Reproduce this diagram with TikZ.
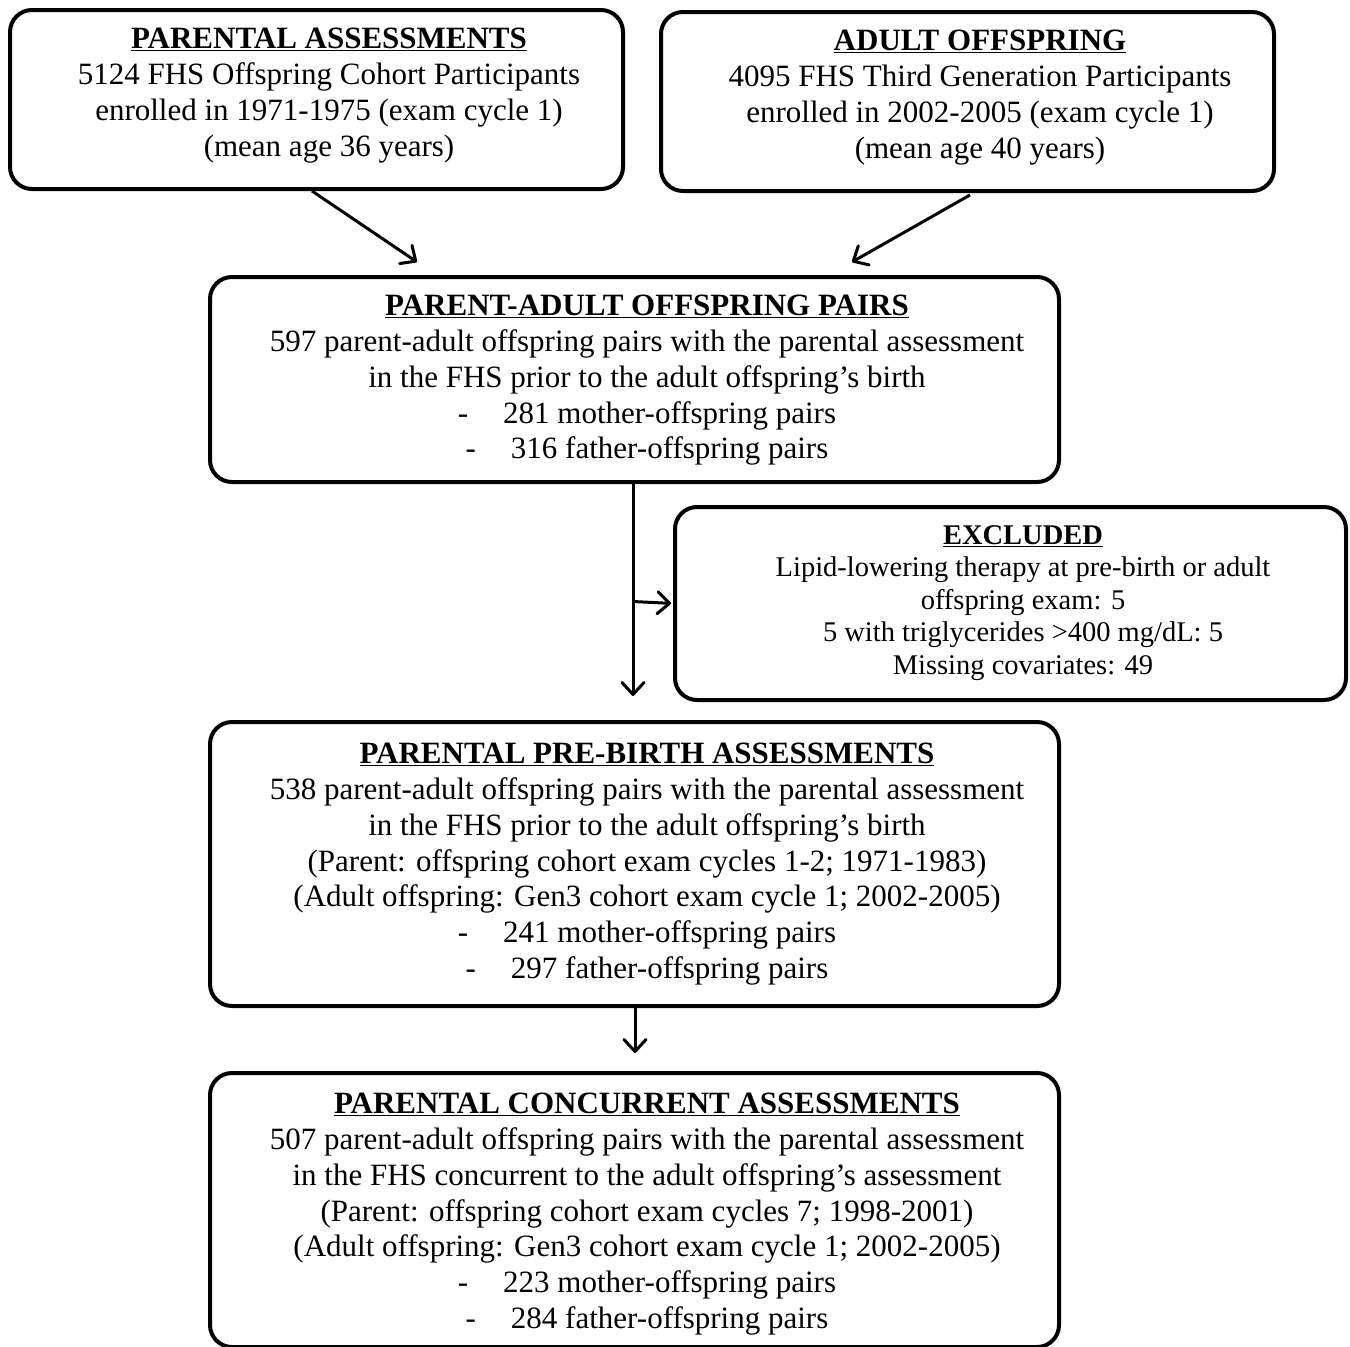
\documentclass[tikz,border=0pt]{standalone}
\usepackage{fontspec}
\setmainfont{Liberation Serif}
\usetikzlibrary{arrows.meta}
\newcommand\dashitem[1]{-\hspace*{35pt}#1}
\newcommand\ttl[1]{\underline{\textbf{#1}}}
\tikzset{
  box/.style={draw, line width=4pt, rounded corners=22pt, anchor=north west, inner sep=0pt},
  txt/.style={align=center, font=\fontsize{31}{35.8}\selectfont, inner sep=0pt, anchor=north},
  stxt/.style={align=center, font=\fontsize{28.5}{32.5}\selectfont, inner sep=0pt, anchor=north},
  arr/.style={line width=3pt, -{Straight Barb[length=12pt,width=22pt,round]}},
}
\begin{document}
\begin{tikzpicture}[x=1pt,y=-1pt]
\useasboundingbox (0,0) rectangle (1350,1347);
% boxes
\node[box, minimum width=613pt, minimum height=179pt] (b1) at (8,8) {};
\node[box, minimum width=613pt, minimum height=179pt] (b2) at (659,10) {};
\node[box, minimum width=849pt, minimum height=205pt] (b3) at (208,275) {};
\node[box, minimum width=671pt, minimum height=193pt] (ex) at (673,505) {};
\node[box, minimum width=849pt, minimum height=284pt] (b5) at (208,720) {};
\node[box, minimum width=849pt, minimum height=274pt] (b6) at (208,1071) {};
% texts
\node[txt] (t1) at (329,28) {\ttl{PARENTAL ASSESSMENTS}\\
5124 FHS Offspring Cohort Participants\\
enrolled in 1971-1975 (exam cycle 1)\\
(mean age 36 years)};
\node[txt] (t2) at (980,30) {\ttl{ADULT OFFSPRING}\\
4095 FHS Third Generation Participants\\
enrolled in 2002-2005 (exam cycle 1)\\
(mean age 40 years)};
\node[txt] (t3) at (647,295) {\ttl{PARENT-ADULT OFFSPRING PAIRS}\\
597 parent-adult offspring pairs with the parental assessment\\
in the FHS prior to the adult offspring’s birth\\
\dashitem{281 mother-offspring pairs}\\
\dashitem{316 father-offspring pairs}};
\node[stxt] (tex) at (1023,525) {\ttl{EXCLUDED}\\
Lipid-lowering therapy at pre-birth or adult\\
offspring exam: 5\\
5 with triglycerides >400 mg/dL: 5\\
Missing covariates: 49};
\node[txt] (t5) at (647,743) {\ttl{PARENTAL PRE-BIRTH ASSESSMENTS}\\
538 parent-adult offspring pairs with the parental assessment\\
in the FHS prior to the adult offspring’s birth\\
(Parent: offspring cohort exam cycles 1-2; 1971-1983)\\
(Adult offspring: Gen3 cohort exam cycle 1; 2002-2005)\\
\dashitem{241 mother-offspring pairs}\\
\dashitem{297 father-offspring pairs}};
\node[txt] (t6) at (647,1093) {\ttl{PARENTAL CONCURRENT ASSESSMENTS}\\
507 parent-adult offspring pairs with the parental assessment\\
in the FHS concurrent to the adult offspring’s assessment\\
(Parent: offspring cohort exam cycles 7; 1998-2001)\\
(Adult offspring: Gen3 cohort exam cycle 1; 2002-2005)\\
\dashitem{223 mother-offspring pairs}\\
\dashitem{284 father-offspring pairs}};
% connectors
\draw[arr] ([xshift=304pt]b1.south west) -- ([xshift=209pt,yshift=13pt]b3.north west);
\draw[arr] ([xshift=311pt,yshift=-2pt]b2.south west) -- ([xshift=644pt,yshift=13pt]b3.north west);
\draw[arr] ([xshift=425pt]b3.south west) -- ([xshift=425pt,yshift=24pt]b5.north west);
\coordinate (j) at (633,601.5);
\draw[arr, shorten >=2pt] (j) -- (ex.west);
\draw[arr] ([xshift=427pt]b5.south west) -- ([xshift=427pt,yshift=18pt]b6.north west);
\end{tikzpicture}
\end{document}
